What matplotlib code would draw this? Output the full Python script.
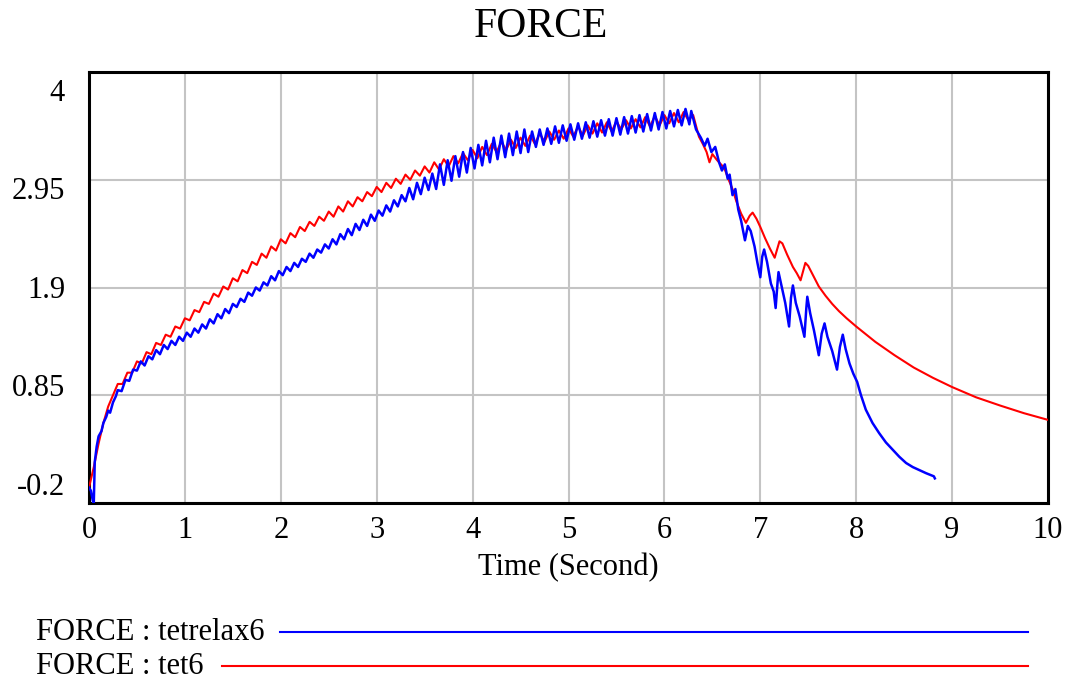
import numpy as np
import matplotlib
matplotlib.use("Agg")
import matplotlib.pyplot as plt
from matplotlib.lines import Line2D

plt.rcParams['font.family'] = ['Liberation Serif', 'DejaVu Serif']

# ---------------- data ----------------
title = "FORCE"
x_label = "Time (Second)"
x_ticks = [0, 1, 2, 3, 4, 5, 6, 7, 8, 9, 10]
y_ticks = [-0.2, 0.85, 1.9, 2.95, 4]
y_tick_labels = ["-0.2", "0.85", "1.9", "2.95", "4"]
series_names = ["FORCE : tetrelax6", "FORCE : tet6"]

# tet6 (red): sampled every 0.05 s from t=0 to t=6.3
red_step = 0.05
red_osc = [
    -0.05, 0.15, 0.38, 0.58, 0.74, 0.85, 0.96, 0.96, 1.07, 1.07,
    1.18, 1.16, 1.27, 1.25, 1.36, 1.34, 1.44, 1.42, 1.52, 1.50,
    1.60, 1.58, 1.68, 1.66, 1.76, 1.74, 1.84, 1.81, 1.91, 1.88,
    1.99, 1.96, 2.07, 2.04, 2.15, 2.12, 2.23, 2.19, 2.30, 2.26,
    2.37, 2.33, 2.43, 2.39, 2.49, 2.45, 2.54, 2.50, 2.59, 2.55,
    2.64, 2.59, 2.69, 2.64, 2.74, 2.69, 2.78, 2.74, 2.83, 2.79,
    2.88, 2.83, 2.92, 2.87, 2.96, 2.91, 3.00, 2.95, 3.04, 2.99,
    3.08, 3.02, 3.12, 3.05, 3.15, 3.08, 3.18, 3.11, 3.21, 3.14,
    3.24, 3.16, 3.27, 3.19, 3.30, 3.22, 3.32, 3.24, 3.34, 3.26,
    3.36, 3.28, 3.38, 3.30, 3.40, 3.32, 3.42, 3.34, 3.43, 3.35,
    3.45, 3.37, 3.47, 3.38, 3.48, 3.40, 3.50, 3.41, 3.51, 3.42,
    3.52, 3.44, 3.53, 3.45, 3.54, 3.46, 3.56, 3.47, 3.57, 3.48,
    3.58, 3.50, 3.60, 3.51, 3.61, 3.53, 3.58,
]
red_tail_t = [6.36, 6.40, 6.44, 6.47, 6.50, 6.55, 6.60, 6.63, 6.67, 6.71,
              6.75, 6.80, 6.85, 6.89, 6.92, 6.96, 7.00, 7.05, 7.10, 7.15,
              7.20, 7.23, 7.28, 7.34, 7.38, 7.42, 7.47, 7.50, 7.55, 7.61,
              7.68, 7.75, 7.82, 7.90, 8.00, 8.20, 8.40, 8.60, 8.80, 9.00,
              9.25, 9.50, 9.75, 10.0]
red_tail_v = [3.37, 3.30, 3.22, 3.12, 3.20, 3.14, 3.09, 3.05, 2.95, 2.86,
              2.74, 2.62, 2.53, 2.60, 2.63, 2.57, 2.49, 2.38, 2.28, 2.19,
              2.35, 2.33, 2.22, 2.10, 2.04, 1.97, 2.14, 2.11, 2.02, 1.91,
              1.82, 1.74, 1.67, 1.60, 1.52, 1.37, 1.24, 1.12, 1.02, 0.93,
              0.83, 0.75, 0.675, 0.61]

# tetrelax6 (blue)
blue_head_t = [0.00, 0.02, 0.04, 0.05, 0.06, 0.08, 0.10, 0.13, 0.15, 0.18,
               0.20, 0.22, 0.25, 0.28]
blue_head_v = [-0.05, -0.08, -0.18, -0.20, 0.20, 0.35, 0.45, 0.50, 0.58, 0.64,
               0.70, 0.68, 0.78, 0.84]
# sampled every 0.04 s from t=0.30 to t=6.26
blue_start = 0.30
blue_step = 0.04
blue_osc = [
    0.90, 0.89, 1.00, 0.99, 1.10, 1.09, 1.18, 1.14, 1.23, 1.20,
    1.29, 1.25, 1.34, 1.30, 1.38, 1.34, 1.42, 1.38, 1.46, 1.42,
    1.50, 1.46, 1.54, 1.50, 1.59, 1.55, 1.64, 1.60, 1.69, 1.65,
    1.74, 1.71, 1.79, 1.76, 1.85, 1.82, 1.90, 1.87, 1.95, 1.92,
    2.01, 1.97, 2.06, 2.02, 2.10, 2.06, 2.14, 2.10, 2.18, 2.15,
    2.23, 2.19, 2.27, 2.24, 2.32, 2.28, 2.37, 2.32, 2.42, 2.37,
    2.47, 2.41, 2.52, 2.46, 2.56, 2.50, 2.61, 2.55, 2.65, 2.60,
    2.70, 2.64, 2.75, 2.69, 2.80, 2.74, 2.87, 2.76, 2.92, 2.81,
    2.97, 2.85, 3.01, 2.86, 3.10, 2.90, 3.14, 2.94, 3.18, 2.98,
    3.22, 3.02, 3.26, 3.06, 3.29, 3.09, 3.33, 3.12, 3.36, 3.15,
    3.38, 3.17, 3.40, 3.19, 3.42, 3.21, 3.44, 3.22, 3.42, 3.27,
    3.44, 3.29, 3.45, 3.30, 3.47, 3.31, 3.48, 3.33, 3.49, 3.34,
    3.50, 3.35, 3.51, 3.36, 3.52, 3.37, 3.53, 3.38, 3.54, 3.38,
    3.55, 3.39, 3.56, 3.40, 3.57, 3.41, 3.58, 3.42, 3.59, 3.43,
    3.60, 3.44, 3.61, 3.45, 3.62, 3.47, 3.63, 3.48, 3.64, 3.49,
]
blue_tail_t = [6.28, 6.33, 6.38, 6.42, 6.45, 6.49, 6.53, 6.57, 6.60, 6.63,
               6.66, 6.68, 6.71, 6.74, 6.77, 6.80, 6.84, 6.87, 6.90, 6.94,
               6.97, 7.00, 7.02, 7.04, 7.07, 7.11, 7.14, 7.16, 7.18, 7.19,
               7.22, 7.26, 7.30, 7.32, 7.34, 7.37, 7.41, 7.46, 7.48, 7.49,
               7.52, 7.56, 7.61, 7.64, 7.67, 7.70, 7.75, 7.80, 7.83, 7.86,
               7.89, 7.93, 7.97, 8.01, 8.05, 8.10, 8.17, 8.24, 8.31, 8.38,
               8.45, 8.52, 8.59, 8.66, 8.73, 8.81, 8.82]
blue_tail_v = [3.62, 3.44, 3.36, 3.28, 3.35, 3.22, 3.27, 3.12, 3.04, 3.10,
               2.96, 3.00, 2.80, 2.86, 2.66, 2.55, 2.36, 2.50, 2.45, 2.30,
               2.14, 2.00, 2.20, 2.27, 2.15, 1.94, 1.86, 1.70, 1.95, 2.05,
               1.92, 1.75, 1.52, 1.80, 1.92, 1.75, 1.62, 1.42, 1.70, 1.81,
               1.65, 1.48, 1.24, 1.45, 1.55, 1.42, 1.28, 1.10, 1.32, 1.44,
               1.30, 1.16, 1.06, 0.98, 0.85, 0.71, 0.58, 0.48, 0.39, 0.32,
               0.25, 0.19, 0.15, 0.12, 0.09, 0.06, 0.04]

# ---------------- assemble series ----------------
red_t = np.concatenate([red_step * np.arange(len(red_osc)), red_tail_t])
red_v = np.concatenate([red_osc, red_tail_v])
blue_t = np.concatenate([blue_head_t, blue_start + blue_step * np.arange(len(blue_osc)), blue_tail_t])
blue_v = np.concatenate([blue_head_v, blue_osc, blue_tail_v])

BLUE = "#0000ff"
RED = "#ff0000"

fig = plt.figure(figsize=(10.66, 6.84), dpi=100)
ax = fig.add_axes([89 / 1066, 1 - 503 / 684, (1048 - 89) / 1066, (503 - 72) / 684])

ax.plot(red_t, red_v, color=RED, lw=1.5, zorder=3)
ax.plot(blue_t, blue_v, color=BLUE, lw=1.8, zorder=4)

ax.set_xlim(0, 10)
ax.set_ylim(-0.2, 4)
ax.set_xticks(x_ticks)
ax.set_xticklabels([str(v) for v in x_ticks], fontsize=22)
ax.set_yticks(y_ticks)
ax.set_yticklabels([])
ax.tick_params(axis='both', length=0)
ax.tick_params(axis='x', pad=9)
ax.grid(True, color="#c4c4c4", lw=1.5)
ax.set_axisbelow(True)
for sp in ax.spines.values():
    sp.set_color("black")
    sp.set_linewidth(2.2)

# y tick labels (placed evenly, as in the reference)
for k, lab in enumerate(y_tick_labels):
    ax.text(-0.025, 0.036 + k * 0.2287, lab, transform=ax.transAxes,
            ha='right', va='center', fontsize=22)

fig.text(541 / 1066, 1 - 27 / 684, title, ha='center', va='center', fontsize=30)
fig.text(568 / 1066, 1 - 568 / 684, x_label, ha='center', va='center', fontsize=22)

# legend below
legend_rows = [(series_names[0], BLUE, 632, 280), (series_names[1], RED, 666, 222)]
for name, col, ypx, x0 in legend_rows:
    fig.text(36 / 1066, 1 - ypx / 684, name, ha='left', va='center', fontsize=22)
    fig.add_artist(Line2D([x0 / 1066, 1028 / 1066], [1 - ypx / 684, 1 - ypx / 684],
                          transform=fig.transFigure, color=col, lw=1.5))

fig.savefig("out.png", dpi=100)
